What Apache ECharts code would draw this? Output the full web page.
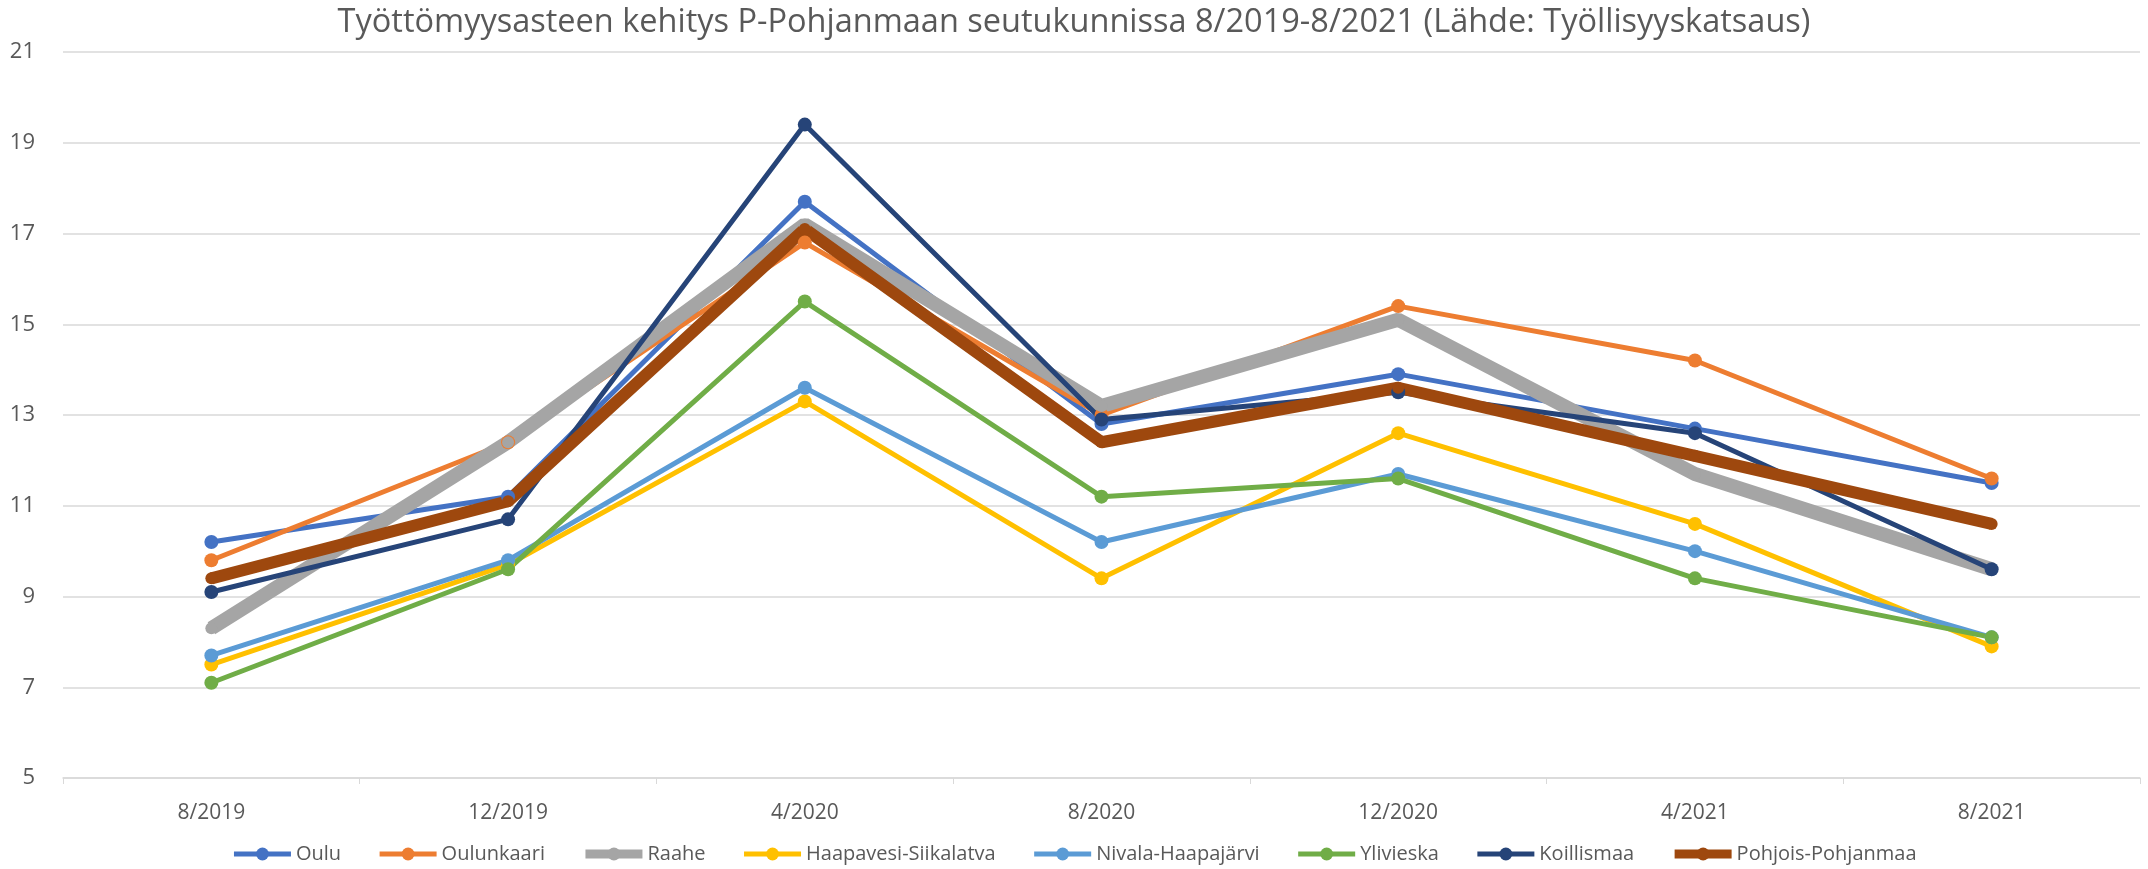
<!DOCTYPE html>
<html>
<head>
<meta charset="utf-8">
<script src="https://cdn.jsdelivr.net/npm/echarts@6/dist/echarts.min.js"></script>
<style>
  html, body { margin: 0; padding: 0; background: #fff; }
  #chart { width: 2148px; height: 869px; }
</style>
</head>
<body>
<div id="chart"></div>
<script>
// kuukaudet
const categories = ['8/2019', '12/2019', '4/2020', '8/2020', '12/2020', '4/2021', '8/2021']

// työttömyysaste %, luettu kuvasta
const oulu = [10.2, 11.2, 17.7, 12.8, 13.9, 12.7, 11.5]
const oulunkaari = [9.8, 12.4, 16.8, 13.0, 15.4, 14.2, 11.6]
const raahe = [8.3, 12.4, 17.2, 13.2, 15.1, 11.7, 9.6]
const haapavesi = [7.5, 9.7, 13.3, 9.4, 12.6, 10.6, 7.9]
const nivala = [7.7, 9.8, 13.6, 10.2, 11.7, 10.0, 8.1]
const ylivieska = [7.1, 9.6, 15.5, 11.2, 11.6, 9.4, 8.1]
const koillismaa = [9.1, 10.7, 19.4, 12.9, 13.5, 12.6, 9.6]
const pohjoisPohjanmaa = [9.4, 11.1, 17.1, 12.4, 13.6, 12.1, 10.6]

const yTicks = { min: 5, max: 21, interval: 2 }

const chart = echarts.init(document.getElementById('chart'))

function line(name, data, color, width, symbolSize) {
  return {
    name,
    type: 'line',
    data,
    color,
    lineStyle: { width, color },
    itemStyle: { color },
    symbol: 'circle',
    symbolSize,
    showSymbol: true
  }
}

const series = [
  line('Oulu', oulu, '#4472C4', 5, 14),
  line('Oulunkaari', oulunkaari, '#ED7D31', 5, 14),
  line('Raahe', raahe, '#A5A5A5', 14, 12),
  line('Haapavesi-Siikalatva', haapavesi, '#FFC000', 5, 14),
  line('Nivala-Haapajärvi', nivala, '#5B9BD5', 5, 14),
  line('Ylivieska', ylivieska, '#70AD47', 5, 14),
  line('Koillismaa', koillismaa, '#264478', 5, 14),
  line('Pohjois-Pohjanmaa', pohjoisPohjanmaa, '#9E480E', 12, 12)
]

const font = 'Open Sans'

chart.setOption({
  animation: false,
  backgroundColor: '#fff',
  title: {
    text: 'Työttömyysasteen kehitys P-Pohjanmaan seutukunnissa 8/2019-8/2021 (Lähde: Työllisyyskatsaus)',
    left: 'center',
    top: 1,
    textStyle: { fontFamily: font, fontSize: 32.5, fontWeight: 'normal', color: '#595959' }
  },
  legend: {
    bottom: 0,
    left: 'center',
    itemWidth: 57,
    itemHeight: 16,
    itemGap: 36,
    textStyle: { fontFamily: font, fontSize: 20, color: '#595959' },
    data: series.map(s => ({
      name: s.name,
      lineStyle: { width: s.lineStyle.width > 10 ? 9 : 5 }
    }))
  },
  grid: { left: 63, right: 8, top: 52, bottom: 91 },
  xAxis: {
    type: 'category',
    data: categories,
    boundaryGap: true,
    axisLine: { show: true, lineStyle: { color: '#D9D9D9', width: 1.5 } },
    axisTick: { show: true, length: 6, lineStyle: { color: '#D9D9D9' } },
    axisLabel: { fontFamily: font, fontSize: 21, color: '#595959', margin: 25 }
  },
  yAxis: {
    type: 'value',
    min: yTicks.min,
    max: yTicks.max,
    interval: yTicks.interval,
    axisLine: { show: false },
    axisTick: { show: false },
    splitLine: { lineStyle: { color: '#D9D9D9', width: 1.5 } },
    axisLabel: { fontFamily: font, fontSize: 22, color: '#595959', margin: 28 }
  },
  series
})
</script>
</body>
</html>
